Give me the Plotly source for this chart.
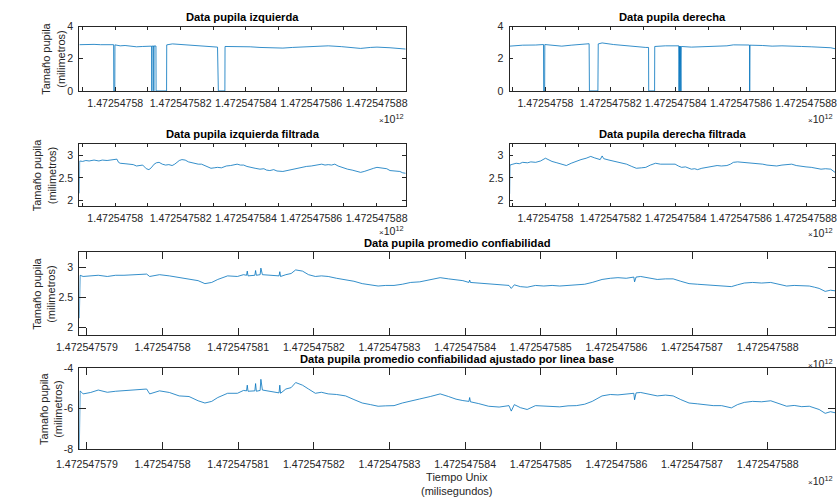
import numpy as np
import plotly.graph_objects as go

# ---------------- data (time in seconds relative to T0_MS) ----------------
T0_MS = 1472547579000

raw_left_t = [-0.10, 0.00, 0.20, 0.35, 0.55, 0.75, 0.95, 0.955, 0.985, 0.99, 1.15, 1.30, 1.45, 1.65,
              1.84, 2.00, 2.115, 2.12, 2.125, 2.175, 2.18, 2.185, 2.245, 2.25, 2.57, 2.575, 2.75,
              3.04, 3.34, 3.64, 3.93, 4.13, 4.155, 4.355, 4.36, 4.53, 4.73, 5.13, 5.43, 5.73,
              6.13, 6.42, 6.72, 7.12, 7.52, 7.92, 8.11, 8.51, 8.81, 9.01, 9.41, 9.71, 9.89]
raw_left_v = [2.87, 2.88, 2.86, 2.89, 2.87, 2.88, 2.87, 0.0, 0.0, 2.86, 2.80, 2.82, 2.78, 2.74,
              2.76, 2.78, 2.78, 0.0, 2.78, 2.79, 0.0, 2.79, 2.79, 0.0, 0.0, 2.86, 2.92,
              2.88, 2.82, 2.78, 2.74, 2.72, 0.0, 0.0, 2.76, 2.76, 2.78, 2.74, 2.70, 2.68,
              2.66, 2.70, 2.74, 2.77, 2.80, 2.75, 2.70, 2.64, 2.70, 2.72, 2.68, 2.65, 2.60]

raw_right_t = [-0.10, 0.30, 0.70, 0.94, 0.945, 0.975, 0.98, 1.20, 1.50, 1.79, 2.09, 2.34, 2.35,
               2.61, 2.62, 2.74, 3.09, 3.49, 3.79, 4.08, 4.165, 4.17, 4.35, 4.355, 4.68, 4.98,
               5.095, 5.10, 5.11, 5.13, 5.14, 5.16, 5.17, 5.48, 5.97, 6.27, 6.57, 6.77, 7.07,
               7.265, 7.27, 7.28, 7.67, 7.96, 8.26, 8.56, 8.86, 9.16, 9.46, 9.76, 9.89]
raw_right_v = [2.78, 2.84, 2.85, 2.88, 0.0, 0.0, 2.88, 2.84, 2.78, 2.84, 2.90, 2.93, 0.0,
               0.0, 2.92, 2.98, 2.88, 2.80, 2.72, 2.70, 2.70, 0.0, 0.0, 2.76, 2.80, 2.82,
               2.80, 0.0, 2.78, 0.0, 2.78, 0.0, 2.76, 2.72, 2.74, 2.78, 2.80, 2.86, 2.86,
               2.85, 0.0, 2.84, 2.82, 2.78, 2.80, 2.80, 2.76, 2.74, 2.72, 2.68, 2.62]

filt_left_t = [-0.100, -0.090, 0.00, 0.10, 0.20, 0.35, 0.50, 0.60, 0.75, 0.90, 1.05, 1.10, 1.15,
               1.30, 1.45, 1.55, 1.65, 1.75, 1.84, 1.95, 2.03, 2.10, 2.19, 2.26, 2.34, 2.44,
               2.54, 2.64, 2.74, 2.82, 2.89, 2.96, 3.04, 3.14, 3.24, 3.34, 3.45, 3.54, 3.64,
               3.78, 3.93, 4.03, 4.13, 4.25, 4.40, 4.53, 4.63, 4.73, 4.83, 4.93, 5.03, 5.13,
               5.28, 5.43, 5.55, 5.63, 5.73, 5.85, 5.95, 6.13, 6.25, 6.42, 6.55, 6.72, 6.85,
               7.00, 7.12, 7.22, 7.32, 7.42, 7.52, 7.62, 7.72, 7.82, 7.92, 8.02, 8.11, 8.25,
               8.40, 8.51, 8.62, 8.72, 8.81, 8.91, 9.01, 9.11, 9.21, 9.31, 9.41, 9.55, 9.71,
               9.80, 9.89]
filt_left_v = [2.16, 2.87, 2.86, 2.88, 2.87, 2.89, 2.87, 2.89, 2.88, 2.90, 2.91, 2.84, 2.82,
               2.81, 2.80, 2.79, 2.76, 2.77, 2.78, 2.70, 2.68, 2.72, 2.80, 2.83, 2.84, 2.80,
               2.78, 2.79, 2.77, 2.80, 2.85, 2.88, 2.90, 2.89, 2.85, 2.83, 2.82, 2.80, 2.80,
               2.76, 2.71, 2.72, 2.73, 2.72, 2.76, 2.77, 2.79, 2.80, 2.78, 2.78, 2.75, 2.73,
               2.71, 2.69, 2.70, 2.67, 2.66, 2.68, 2.65, 2.64, 2.66, 2.69, 2.71, 2.73, 2.75,
               2.76, 2.77, 2.78, 2.80, 2.78, 2.79, 2.78, 2.80, 2.76, 2.73, 2.71, 2.69, 2.67,
               2.65, 2.62, 2.64, 2.67, 2.69, 2.71, 2.73, 2.72, 2.71, 2.70, 2.66, 2.65, 2.64,
               2.61, 2.60]

filt_right_t = [-0.10, -0.09, 0.00, 0.10, 0.20, 0.30, 0.45, 0.55, 0.70, 0.85, 1.00, 1.10, 1.20,
                1.35, 1.50, 1.64, 1.79, 1.95, 2.09, 2.25, 2.39, 2.50, 2.59, 2.68, 2.74, 2.79,
                2.95, 3.09, 3.25, 3.49, 3.65, 3.79, 3.95, 4.08, 4.22, 4.38, 4.53, 4.68, 4.85,
                4.98, 5.08, 5.18, 5.30, 5.48, 5.58, 5.67, 5.80, 5.97, 6.10, 6.27, 6.40, 6.57,
                6.68, 6.77, 6.90, 7.07, 7.22, 7.37, 7.50, 7.67, 7.80, 7.96, 8.10, 8.26, 8.40,
                8.56, 8.70, 8.86, 9.00, 9.16, 9.30, 9.46, 9.60, 9.76, 9.89]
filt_right_v = [2.15, 2.78, 2.80, 2.82, 2.81, 2.84, 2.83, 2.85, 2.84, 2.87, 2.93, 2.89, 2.86,
                2.83, 2.80, 2.77, 2.82, 2.87, 2.90, 2.93, 2.97, 2.94, 2.92, 2.90, 2.98, 2.92,
                2.89, 2.87, 2.84, 2.80, 2.75, 2.71, 2.72, 2.73, 2.78, 2.82, 2.80, 2.80, 2.81,
                2.80, 2.76, 2.73, 2.74, 2.69, 2.70, 2.68, 2.71, 2.73, 2.74, 2.77, 2.76, 2.77,
                2.80, 2.84, 2.85, 2.84, 2.83, 2.82, 2.80, 2.80, 2.78, 2.77, 2.76, 2.78, 2.79,
                2.80, 2.77, 2.75, 2.74, 2.73, 2.71, 2.69, 2.70, 2.69, 2.62]

prom_t = [-0.10, -0.09, -0.05, 0.05, 0.15, 0.27, 0.38, 0.49, 0.60, 0.70, 0.79, 0.83, 0.96,
          1.09, 1.22, 1.35, 1.47, 1.56, 1.65, 1.73, 1.86, 1.99, 2.07, 2.11, 2.12, 2.13, 2.22,
          2.23, 2.24, 2.29, 2.30, 2.32, 2.45, 2.54, 2.55, 2.56, 2.63, 2.70, 2.76, 2.85, 2.93,
          3.02, 3.10, 3.19, 3.30, 3.42, 3.53, 3.64, 3.75, 3.85, 3.95, 4.06, 4.17, 4.28, 4.40,
          4.54, 4.67, 4.78, 4.88, 4.97, 5.05, 5.06, 5.07, 5.18, 5.31, 5.45, 5.58, 5.61, 5.65,
          5.73, 5.82, 5.93, 6.04, 6.15, 6.25, 6.36, 6.47, 6.58, 6.68, 6.81, 6.92, 7.02, 7.13,
          7.23, 7.24, 7.26, 7.32, 7.43, 7.54, 7.65, 7.75, 7.85, 7.96, 8.07, 8.18, 8.28, 8.39,
          8.52, 8.60, 8.69, 8.80, 8.92, 9.04, 9.15, 9.25, 9.35, 9.45, 9.55, 9.62, 9.68, 9.76,
          9.83, 9.89]
prom_v = [2.15, 2.87, 2.85, 2.86, 2.87, 2.85, 2.87, 2.87, 2.88, 2.88, 2.89, 2.85, 2.88,
          2.86, 2.83, 2.80, 2.78, 2.73, 2.75, 2.80, 2.86, 2.85, 2.88, 2.87, 2.94, 2.86, 2.87,
          2.95, 2.87, 2.88, 2.99, 2.88, 2.87, 2.86, 2.93, 2.85, 2.88, 2.90, 2.96, 2.94, 2.88,
          2.85, 2.86, 2.85, 2.82, 2.80, 2.77, 2.73, 2.71, 2.69, 2.70, 2.70, 2.72, 2.75, 2.76,
          2.80, 2.83, 2.81, 2.79, 2.78, 2.75, 2.79, 2.75, 2.74, 2.72, 2.71, 2.70, 2.65, 2.71,
          2.68, 2.67, 2.70, 2.69, 2.70, 2.69, 2.70, 2.71, 2.72, 2.75, 2.80, 2.82, 2.83, 2.82,
          2.84, 2.76, 2.84, 2.85, 2.82, 2.80, 2.81, 2.81, 2.77, 2.73, 2.72, 2.71, 2.70, 2.69,
          2.68, 2.71, 2.74, 2.75, 2.74, 2.75, 2.72, 2.69, 2.70, 2.69, 2.69, 2.67, 2.65, 2.60,
          2.62, 2.61]

ajus_t = prom_t
ajus_v = [-8.00, -5.12, -5.27, -5.20, -5.08, -5.19, -5.14, -5.12, -5.10, -5.05, -5.03, -5.27, -5.12,
          -5.20, -5.37, -5.40, -5.61, -5.72, -5.64, -5.45, -5.24, -5.24, -5.10, -5.12, -4.84, -5.14, -5.12,
          -4.76, -5.14, -5.10, -4.55, -5.08, -5.16, -5.22, -4.84, -5.24, -5.03, -4.96, -4.71, -4.84, -5.03,
          -5.24, -5.19, -5.27, -5.30, -5.37, -5.55, -5.72, -5.80, -5.88, -5.86, -5.85, -5.72, -5.61, -5.52,
          -5.40, -5.27, -5.40, -5.53, -5.60, -5.64, -5.45, -5.66, -5.75, -5.88, -5.92, -5.85, -6.12, -5.80,
          -5.95, -6.04, -5.85, -5.88, -5.90, -5.91, -5.86, -5.85, -5.78, -5.64, -5.37, -5.30, -5.32, -5.28,
          -5.24, -5.56, -5.22, -5.20, -5.30, -5.37, -5.33, -5.37, -5.55, -5.72, -5.76, -5.80, -5.85, -5.85,
          -5.96, -5.80, -5.69, -5.64, -5.66, -5.61, -5.75, -5.88, -5.84, -5.90, -5.88, -5.95, -6.04, -6.23,
          -6.15, -6.20]

tick_s = [0, 1, 2, 3, 4, 5, 6, 7, 8, 9]
tick_labels_full = ["1.472547579", "1.47254758", "1.472547581", "1.472547582", "1.472547583",
                    "1.472547584", "1.472547585", "1.472547586", "1.472547587", "1.472547588"]
tick_labels_sparse = ["", "1.47254758", "", "1.472547582", "", "1.472547584", "",
                      "1.472547586", "", "1.472547588"]
x_range_s = [-0.10, 9.89]

titles = ["Data pupila izquierda", "Data pupila derecha",
          "Data pupila izquierda filtrada", "Data pupila derecha filtrada",
          "Data pupila promedio confiabilidad",
          "Data pupila promedio confiabilidad ajustado por linea base"]
ylabel = "Tamaño pupila<br>(milimetros)"
xlabel = "Tiempo Unix<br>(milisegundos)"

# ---------------- layout ----------------
W, H = 837, 504
FONT = "Liberation Sans, Arial, Helvetica, sans-serif"
AX = "#262626"
LINE = "#0072BD"

def fx(p):
    return p / W

def fy(p):
    return 1 - p / H

def to_ms(s):
    return [T0_MS + v * 1000.0 for v in s]

panels = [
    dict(t=raw_left_t, v=raw_left_v, xd=(58, 394), yd=(21, 87), yr=[0, 4], yt=[0, 2, 4],
         yl=["0", "2", "4"], xl=tick_labels_sparse, tl=3.5, title=titles[0],
         ylab=31, exp=(394, 115), xso=2),
    dict(t=raw_right_t, v=raw_right_v, xd=(501, 836), yd=(21, 87), yr=[0, 4], yt=[0, 2, 4],
         yl=["0", "2", "4"], xl=tick_labels_sparse, tl=3.5, title=titles[1],
         ylab=None, exp=(836, 115), xso=2),
    dict(t=filt_left_t, v=filt_left_v, xd=(58, 394), yd=(141, 205), yr=[1.88, 3.25],
         yt=[2, 2.5, 3], yl=["2", "2.5", "3"], xl=tick_labels_sparse, tl=3.5,
         title=titles[2], ylab=22, exp=(394, 230), xso=2),
    dict(t=filt_right_t, v=filt_right_v, xd=(501, 836), yd=(141, 205), yr=[1.88, 3.25],
         yt=[2, 2.5, 3], yl=["2", "2.5", "3"], xl=tick_labels_sparse, tl=3.5,
         title=titles[3], ylab=None, exp=(836, 232), xso=2),
    dict(t=prom_t, v=prom_v, xd=(58, 836), yd=(252, 337), yr=[1.87, 3.26],
         yt=[2, 2.5, 3], yl=["2", "2.5", "3"], xl=tick_labels_full, tl=7,
         title=titles[4], ylab=22, exp=(836, 366), xso=2),
    dict(t=ajus_t, v=ajus_v, xd=(58, 836), yd=(371, 454), yr=[-8, -4],
         yt=[-8, -6, -4], yl=["-8", "-6", "-4"], xl=tick_labels_full, tl=7,
         title=titles[5], ylab=28, exp=(836, 486), xso=5),
]

fig = go.Figure()
annotations = []
layout_axes = {}
for i, p in enumerate(panels, start=1):
    xa = "x" if i == 1 else f"x{i}"
    ya = "y" if i == 1 else f"y{i}"
    fig.add_trace(go.Scatter(x=to_ms(p["t"]), y=p["v"], mode="lines",
                             line=dict(color=LINE, width=0.8), xaxis=xa, yaxis=ya,
                             showlegend=False, hoverinfo="skip"))
    common = dict(showline=True, linecolor=AX, linewidth=1, mirror="ticks",
                  ticks="inside", tickcolor=AX, tickwidth=1, ticklen=p["tl"],
                  showgrid=False, zeroline=False,
                  tickfont=dict(family=FONT, size=10.6, color=AX))
    layout_axes["xaxis" if i == 1 else f"xaxis{i}"] = dict(
        domain=[fx(p["xd"][0]), fx(p["xd"][1])], range=to_ms(x_range_s),
        anchor=ya, tickmode="array", tickvals=to_ms(tick_s), ticktext=p["xl"],
        ticklabelstandoff=p["xso"], ticklabeloverflow="allow", **common)
    layout_axes["yaxis" if i == 1 else f"yaxis{i}"] = dict(
        domain=[fy(p["yd"][1]), fy(p["yd"][0])], range=p["yr"], anchor=xa,
        tickmode="array", tickvals=p["yt"], ticktext=p["yl"], ticklabelstandoff=3,
        **common)
    annotations.append(dict(text=f"<b>{p['title']}</b>", xref="paper", yref="paper",
                            x=fx((p["xd"][0] + p["xd"][1]) / 2), y=fy(p["yd"][0] - 1.5),
                            xanchor="center", yanchor="bottom", showarrow=False,
                            font=dict(family=FONT, size=11.2, color="#000000")))
    if p["ylab"]:
        annotations.append(dict(text=ylabel, xref="paper", yref="paper",
                                x=fx(p["ylab"]), y=fy((p["yd"][0] + p["yd"][1]) / 2),
                                xanchor="center", yanchor="middle", textangle=-90,
                                showarrow=False,
                                font=dict(family=FONT, size=11, color=AX)))
    annotations.append(dict(text="<span style='font-size:8px'>×</span>10<sup>12</sup>",
                            xref="paper", yref="paper",
                            x=fx(p["exp"][0]), y=fy(p["exp"][1]),
                            xanchor="right", yanchor="middle", showarrow=False,
                            font=dict(family=FONT, size=10.6, color=AX)))

annotations.append(dict(text=xlabel, xref="paper", yref="paper",
                        x=fx(447), y=fy(490), xanchor="center", yanchor="middle",
                        showarrow=False, font=dict(family=FONT, size=11, color=AX)))

fig.update_layout(width=W, height=H, margin=dict(l=0, r=0, t=0, b=0),
                  paper_bgcolor="white", plot_bgcolor="white",
                  annotations=annotations, **layout_axes)

fig.write_html("out.html")
